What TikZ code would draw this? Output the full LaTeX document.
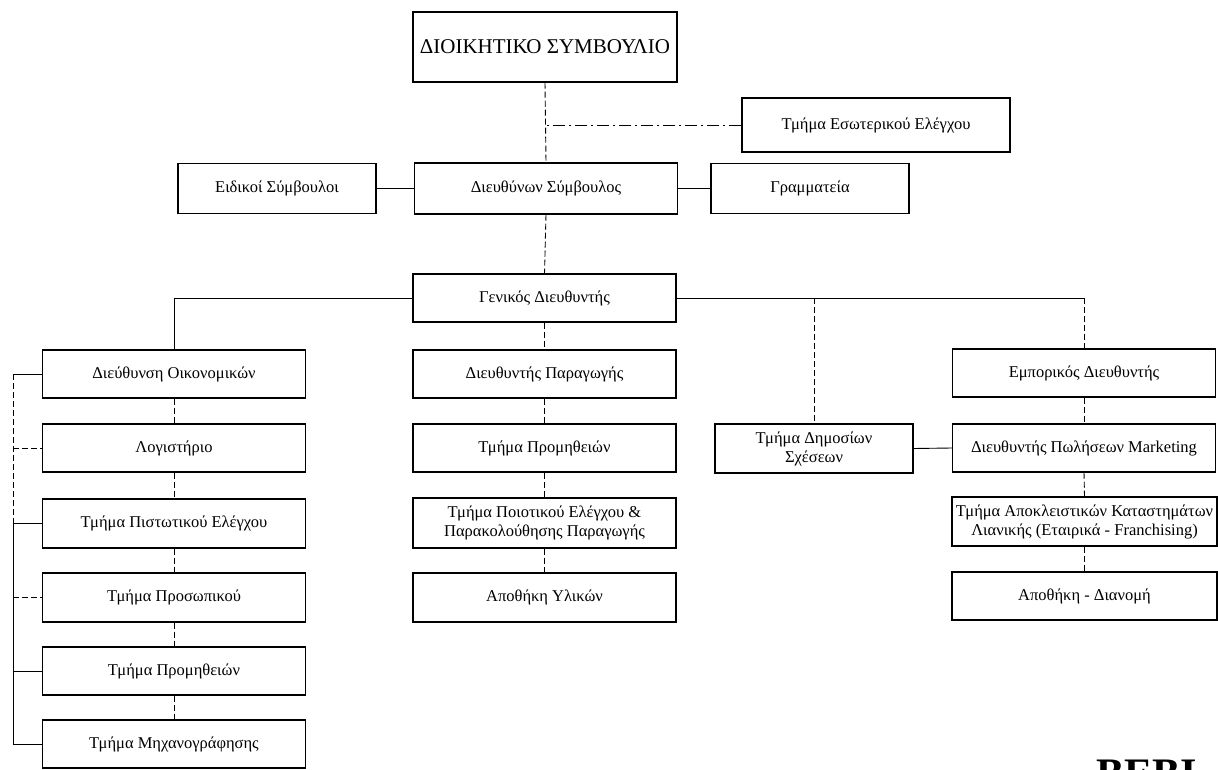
\documentclass[tikz,border=0pt]{standalone}
\usepackage{fontspec}
\setmainfont{Liberation Serif}
\usetikzlibrary{calc}
\begin{document}
\begin{tikzpicture}[x=1pt,y=-1pt,
  unit/.style={draw=black,line width=1.2pt,fill=white,inner sep=1pt,
    align=center,font=\fontsize{16.5}{19}\selectfont},
  wide/.style={unit,minimum width=263pt,minimum height=48pt},
  narrow/.style={unit,minimum width=198pt,minimum height=50pt},
  solidlink/.style={draw=black,line width=0.9pt},
  dashlink/.style={draw=black,line width=0.9pt,dash pattern=on 6pt off 3pt},
  dotdashlink/.style={draw=black,line width=0.9pt,dash pattern=on 12pt off 4pt on 2pt off 4pt}]
\useasboundingbox[fill=white] (0,0) rectangle (1218,770);

% top management
\node[unit,minimum width=264pt,minimum height=70pt,font=\fontsize{21}{24}\selectfont]
  (board) at (545,47) {ΔΙΟΙΚΗΤΙΚΟ ΣΥΜΒΟΥΛΙΟ};
\node[unit,minimum width=268pt,minimum height=54pt] (audit) at (876,125) {Τμήμα Εσωτερικού Ελέγχου};
\node[narrow] (advisors) at (277,188.5) {Ειδικοί Σύμβουλοι};
\node[wide,minimum height=51pt] (ceo) at (546,188.5) {Διευθύνων Σύμβουλος};
\node[narrow] (secr) at (810,188.5) {Γραμματεία};
\node[wide] (gm) at (544.5,298) {Γενικός Διευθυντής};

% directors
\node[wide] (fin) at (174,374) {Διεύθυνση Οικονομικών};
\node[wide] (prod) at (544.5,374) {Διευθυντής Παραγωγής};
\node[wide] (comm) at (1084,373) {Εμπορικός Διευθυντής};

% finance column
\node[wide] (acc) at (174,448) {Λογιστήριο};
\node[wide,minimum height=49pt] (credit) at (174,523.5) {Τμήμα Πιστωτικού Ελέγχου};
\node[wide,minimum height=49pt] (hr) at (174,597.5) {Τμήμα Προσωπικού};
\node[wide] (procA) at (174,671) {Τμήμα Προμηθειών};
\node[wide] (it) at (174,744) {Τμήμα Μηχανογράφησης};

% production column
\node[wide] (procB) at (544.5,448) {Τμήμα Προμηθειών};
\node[wide,minimum height=50pt] (qc) at (544.5,523) {Τμήμα Ποιοτικού Ελέγχου \&\\Παρακολούθησης Παραγωγής};
\node[wide,minimum height=49pt] (store) at (544.5,597.5) {Αποθήκη Υλικών};

% public relations and commercial column
\node[narrow,minimum height=49pt] (pr) at (814,448.5) {Τμήμα Δημοσίων\\Σχέσεων};
\node[wide] (sales) at (1084,448) {Διευθυντής Πωλήσεων Marketing};
\node[wide,minimum width=265pt,minimum height=49pt] (retail) at (1084.5,521.5)
  {Τμήμα Αποκλειστικών Καταστημάτων\\Λιανικής (Εταιρικά - Franchising)};
\node[wide,minimum width=265pt] (dist) at (1084.5,596) {Αποθήκη - Διανομή};

% links among top management
\draw[dashlink] (board.south) -- (ceo.north);
\draw[dotdashlink] (audit.west) -- (audit.west -| board.south);
\draw[solidlink] (advisors.east) -- (ceo.west);
\draw[solidlink] (ceo.east) -- (secr.west);
\draw[dashlink] (ceo.south) -- (gm.north);

% general manager to directors
\draw[solidlink] (gm.west) -- (gm.west -| fin.north) -- (fin.north);
\draw[solidlink] (gm.east) -- (gm.east -| comm.north);
\draw[dashlink] (gm.east -| comm.north) -- (comm.north);
\draw[dashlink] (gm.east -| pr.north) -- (pr.north);
\draw[dashlink] (gm.south) -- (prod.north);

% finance chain
\draw[dashlink] (fin.south) -- (acc.north);
\draw[dashlink] (acc.south) -- (credit.north);
\draw[dashlink] (credit.south) -- (hr.north);
\draw[dashlink] (hr.south) -- (procA.north);
\draw[dashlink] (procA.south) -- (it.north);

% production chain
\draw[dashlink] (prod.south) -- (procB.north);
\draw[dashlink] (procB.south) -- (qc.north);
\draw[dashlink] (qc.south) -- (store.north);

% commercial chain
\draw[dashlink] (comm.south) -- (sales.north);
\draw[dashlink] (sales.south) -- (retail.north);
\draw[dashlink] (retail.south) -- (dist.north);
\draw[solidlink] (pr.east) -- (sales.west);

% side bracket of the finance departments
\coordinate (rail) at (13,0);
\draw[solidlink] (fin.west) -- (fin.west -| rail);
\draw[dashlink] (fin.west -| rail) -- (credit.west -| rail);
\draw[solidlink] (credit.west -| rail) -- (it.west -| rail) -- (it.west);
\draw[dashlink] (acc.west -| rail) -- (acc.west);
\draw[solidlink] (credit.west -| rail) -- (credit.west);
\draw[dashlink] (hr.west -| rail) -- (hr.west);
\draw[solidlink] (procA.west -| rail) -- (procA.west);

% heading cut by the lower edge
\begin{scope}
\clip (0,0) rectangle (1218,770);
\node[anchor=north west,inner sep=0pt,font=\fontsize{42}{44}\selectfont\bfseries]
  (mark) at (1096,760) {BEBI};
\end{scope}
\end{tikzpicture}
\end{document}
